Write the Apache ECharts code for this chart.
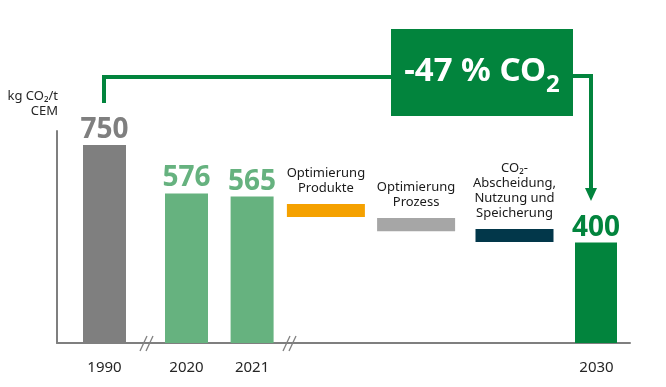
<!DOCTYPE html>
<html>
<head>
<meta charset="utf-8">
<script src="https://cdn.jsdelivr.net/npm/echarts@6/dist/echarts.min.js"></script>
<style>
html,body{margin:0;padding:0;background:#fff;}
#c{width:666px;height:387px;}
</style>
</head>
<body>
<div id="c"></div>
<script>
// ---------------- DATA ----------------
const yearLabels = ['1990', '2020', '2021', '2030'];
const yearValues = [750, 576, 565, 400];
const measureLabels = ['Optimierung\nProdukte', 'Optimierung\nProzess', 'CO₂-\nAbscheidung,\nNutzung und\nSpeicherung'];
const measureLow = [492, 441, 402];
const measureHigh = [538, 488, 449];
const unitLabel = 'kg CO₂/t\nCEM';
const reductionMain = '-47 % CO';
const reductionSub = '2';
const yMin = 40, yMax = 800;

// ---------------- LAYOUT / STYLE ----------------
const SLOT_COUNT = 66;
const SLOT_W = 8.2;
const yearSlots = [3, 13, 21, 63];
const measureSlots = [30, 41, 53];
const yearColors = ['#7f7f7f', '#66b27f', '#66b27f', '#02843d'];
const measureColors = ['#f5a100', '#a6a6a6', '#02374a'];
const FONT = '"Noto Sans", "DejaVu Sans", sans-serif';
const GREEN = '#02843d';
const AXIS = '#7f7f7f';

const slotCats = new Array(SLOT_COUNT).fill('');
yearSlots.forEach((s, i) => slotCats[s] = yearLabels[i]);

const yearData = new Array(SLOT_COUNT).fill('-');
yearSlots.forEach((s, i) => {
  yearData[s] = { value: yearValues[i], itemStyle: { color: yearColors[i] }, label: { color: yearColors[i] } };
});
const baseData = new Array(SLOT_COUNT).fill('-');
const markData = new Array(SLOT_COUNT).fill('-');
measureSlots.forEach((s, i) => {
  baseData[s] = measureLow[i];
  markData[s] = { value: measureHigh[i] - measureLow[i], itemStyle: { color: measureColors[i] }, label: { formatter: measureLabels[i] } };
});

const chart = echarts.init(document.getElementById('c'), null, { renderer: 'canvas' });

const option = {
  animation: false,
  backgroundColor: '#fff',
  grid: [
    { left: 57, right: 36, top: 131, bottom: 44 },
    { left: 75.8, width: SLOT_COUNT * SLOT_W, top: 131, bottom: 44 }
  ],
  xAxis: [
    { gridIndex: 0, type: 'value', min: 0, max: 1, axisLine: { show: true, onZero: false, lineStyle: { color: AXIS, width: 2 } },
      axisTick: { show: false }, axisLabel: { show: false }, splitLine: { show: false } },
    { gridIndex: 1, type: 'category', data: slotCats, position: 'bottom',
      axisLine: { show: false }, axisTick: { show: false }, splitLine: { show: false },
      axisLabel: { interval: 0, margin: 17, color: '#262626', fontSize: 15, fontFamily: FONT } },
    { gridIndex: 1, type: 'category', data: slotCats, position: 'bottom', show: false }
  ],
  yAxis: [
    { gridIndex: 0, type: 'value', min: yMin, max: yMax, axisLine: { show: true, lineStyle: { color: AXIS, width: 2 } },
      axisTick: { show: false }, axisLabel: { show: false }, splitLine: { show: false } },
    { gridIndex: 1, type: 'value', min: yMin, max: yMax, show: false, splitLine: { show: false } }
  ],
  series: [
    { type: 'bar', xAxisIndex: 1, yAxisIndex: 1, data: yearData, barWidth: 43,
      label: { show: true, position: 'top', distance: 1, fontSize: 28, fontWeight: 'bold', fontFamily: FONT } },
    { type: 'bar', xAxisIndex: 2, yAxisIndex: 1, stack: 'm', data: baseData, barWidth: 78,
      itemStyle: { color: 'rgba(0,0,0,0)' }, silent: true },
    { type: 'bar', xAxisIndex: 2, yAxisIndex: 1, stack: 'm', data: markData, barWidth: 78,
      label: { show: true, position: 'top', distance: 8, fontSize: 13, lineHeight: 15, color: '#1a1a1a', fontFamily: FONT, align: 'center' } }
  ],
  graphic: [
    { type: 'text', x: 58, y: 89, style: { text: unitLabel, align: 'right', verticalAlign: 'top', fontSize: 13, lineHeight: 15, fill: '#262626', fontFamily: FONT } },
    // connector line
    { type: 'polyline', shape: { points: [[104, 103], [104, 77], [395, 77]] }, style: { stroke: GREEN, lineWidth: 4, fill: null } },
    { type: 'polyline', shape: { points: [[570, 76], [591, 76], [591, 190]] }, style: { stroke: GREEN, lineWidth: 4, fill: null } },
    { type: 'polygon', shape: { points: [[585, 188], [597, 188], [591, 201]] }, style: { fill: GREEN } },
    // box
    { type: 'rect', shape: { x: 391, y: 29, width: 182, height: 87 }, style: { fill: GREEN } },
    { type: 'text', x: 482, y: 72, style: {
        text: '{m|' + reductionMain + '}{s|' + reductionSub + '}', align: 'center', verticalAlign: 'middle',
        fontFamily: FONT,
        rich: {
          m: { fontSize: 33, fontWeight: 'bold', fill: '#fff', lineHeight: 50, verticalAlign: 'middle', fontFamily: FONT },
          s: { fontSize: 24, fontWeight: 'bold', fill: '#fff', lineHeight: 24, verticalAlign: 'bottom', fontFamily: FONT }
        } } },
    // axis breaks
    { type: 'line', shape: { x1: 140, y1: 351, x2: 147, y2: 336 }, style: { stroke: AXIS, lineWidth: 1.3 } },
    { type: 'line', shape: { x1: 146, y1: 351, x2: 153, y2: 336 }, style: { stroke: AXIS, lineWidth: 1.3 } },
    { type: 'line', shape: { x1: 283, y1: 351, x2: 290, y2: 336 }, style: { stroke: AXIS, lineWidth: 1.3 } },
    { type: 'line', shape: { x1: 289, y1: 351, x2: 296, y2: 336 }, style: { stroke: AXIS, lineWidth: 1.3 } }
  ]
};
chart.setOption(option);
</script>
</body>
</html>
